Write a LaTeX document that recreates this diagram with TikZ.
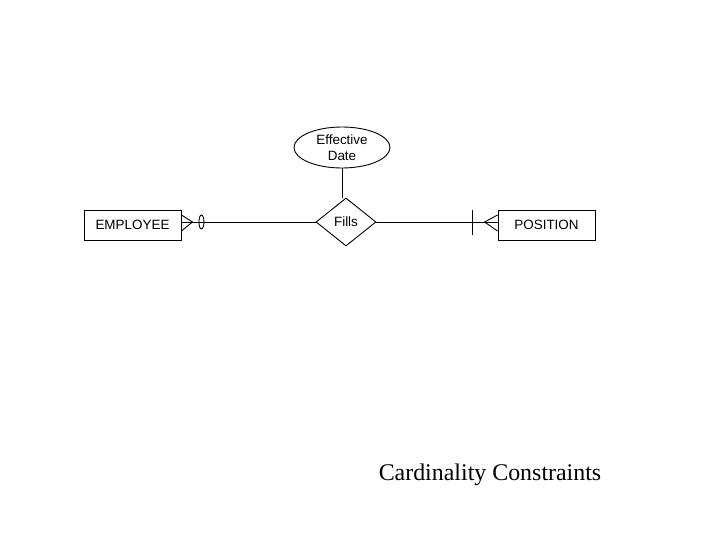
\documentclass[tikz,border=0pt]{standalone}
\usepackage{fontspec}
\setmainfont{Liberation Serif}
\setsansfont{Liberation Sans}
\usetikzlibrary{shapes.geometric,calc}

\begin{document}
\begin{tikzpicture}[
  x=1bp, y=-1bp,
  font=\sffamily\fontsize{13.5}{16}\selectfont,
  line width=0.9bp,
  entity/.style={
    rectangle, draw,
    minimum width=97bp, minimum height=30bp, inner sep=0pt
  },
  attrib/.style={
    ellipse, draw, align=center,
    minimum width=96bp, minimum height=41bp, inner sep=0pt
  },
  relship/.style={
    diamond, draw, aspect=1.25,
    minimum width=60bp, minimum height=48bp, inner sep=0pt
  },
  caption/.style={font=\rmfamily\fontsize{24}{28}\selectfont}
]

%% ── Frame ───────────────────────────────────────────────────────────
\useasboundingbox (0,0) rectangle (720,540);

%% ── Entities, relationship, attribute ──────────────────────────────
\node[entity]  (emp)   at (132.5,225) {EMPLOYEE};
\node[entity]  (pos)   at (546.5,225) {POSITION};
\node[relship] (fills) at (346,222)   {Fills};
\node[attrib]  (date)  at (342,147.5) {Effective\\Date};

%% attribute -> relationship
\draw (date.south) -- (date.south |- fills.north);

%% ── EMPLOYEE side: many, optional ──────────────────────────────────
\coordinate (empf) at ($(emp.east)+(11,-3)$);
\draw (fills.west) -- (emp.east |- fills.west);
\draw ($(emp.east)+(0,-10)$) -- (empf) -- ($(emp.east)+(0,6)$);
\draw ($(empf)+(9,0)$) ellipse [x radius=2.5, y radius=7];

%% ── POSITION side: many, mandatory ─────────────────────────────────
\coordinate (posf) at ($(pos.west)+(-13,-3)$);
\draw (fills.east) -- (pos.west |- fills.east);
\draw ($(pos.west)+(0,-10)$) -- (posf) -- ($(pos.west)+(0,6)$);
\draw ($(pos.west)+(-25,-15)$) -- ($(pos.west)+(-25,10)$);

%% ── Caption ─────────────────────────────────────────────────────────
\node[caption] (title) at (490,475) {Cardinality Constraints};

\end{tikzpicture}
\end{document}
